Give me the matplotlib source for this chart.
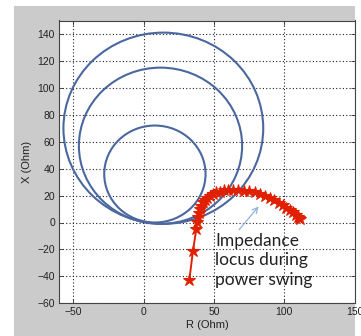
import matplotlib
matplotlib.use("Agg")
import matplotlib.pyplot as plt
from matplotlib.patches import Ellipse, Rectangle

# Mho characteristic circles: centre R, centre X, radius (Ohm)
circle_r = [8, 12, 14]
circle_x = [36, 57, 70]
circle_rad = [36, 58, 71]

# Impedance locus during power swing
locus_r = [32.5, 35, 37.5, 38, 38.5, 39, 40, 41, 42, 43.5, 45, 47, 49, 51.5, 54,
           57, 60, 63.5, 67, 71, 75, 79, 83, 86.5, 90, 93, 96, 99, 101.5, 104,
           106, 108, 109.5, 110.5, 111]
locus_x = [-42.5, -21.5, -4.5, 0.5, 4, 7, 10, 12.5, 15, 17, 18.5, 20, 21.5, 22.5, 23,
           24, 24.5, 24, 24, 23.5, 23.5, 22.5, 21.5, 20, 18, 16.5, 14.5, 13, 11, 9,
           7.5, 5.5, 4, 3, 2.5]

xticks = [-50, 0, 50, 100, 150]
yticks = [-60, -40, -20, 0, 20, 40, 60, 80, 100, 120, 140]

W, H = 361, 336
fig = plt.figure(figsize=(W / 100, H / 100), dpi=100)
fig.patch.set_facecolor("white")
bg = Rectangle((14 / W, 0), (355 - 14) / W, (H - 6) / H,
               transform=fig.transFigure, facecolor="#cbcbcb",
               edgecolor="none", zorder=-10)
fig.add_artist(bg)

ax = fig.add_axes([59.2 / W, (H - 303.3) / H, (354.7 - 59.2) / W, (303.3 - 20.5) / H])
ax.set_zorder(1)
ax.set_facecolor("white")
ax.set_xlim(-60, 150)
ax.set_ylim(-60, 150)

for cr, cx, rad in zip(circle_r, circle_x, circle_rad):
    ax.add_patch(Ellipse((cr, cx), 2 * rad, 2 * rad, fill=False,
                         edgecolor="#4a67a0", linewidth=1.5, zorder=3))

ax.plot(locus_r, locus_x, color="#e02000", linewidth=1.4, marker="*",
        markersize=9, markeredgewidth=0.8, markeredgecolor="#e02000", zorder=4)

ax.annotate("", xy=(83, 13.5), xytext=(66.5, -7),
            arrowprops=dict(arrowstyle="->", color="#8fb3df", lw=0.9), zorder=5)
ax.text(51, -7.5, "Impedance\nlocus during\npower swing", fontsize=12.5,
        family="Lato", color="#222222", va="top", ha="left", linespacing=1.3,
        zorder=6)

ax.set_xticks(xticks)
ax.set_yticks(yticks)
ax.tick_params(direction="in", length=3, width=0.6, labelsize=7.5,
               top=True, right=True, pad=3, colors="#333333",
               labelcolor="#222222")
for lab in ax.get_xticklabels() + ax.get_yticklabels():
    lab.set_family("Liberation Sans")
ax.grid(True, linestyle=(0, (1, 2)), color="#222222", linewidth=0.8)
for s in ax.spines.values():
    s.set_color("#444444")
    s.set_linewidth(0.8)

ax.set_xlabel("R (Ohm)", fontsize=8, family="Liberation Sans", color="#222222",
              labelpad=2)
ax.set_ylabel("X (Ohm)", fontsize=8, family="Liberation Sans", color="#222222",
              labelpad=4)

fig.savefig("out.png", dpi=100)
